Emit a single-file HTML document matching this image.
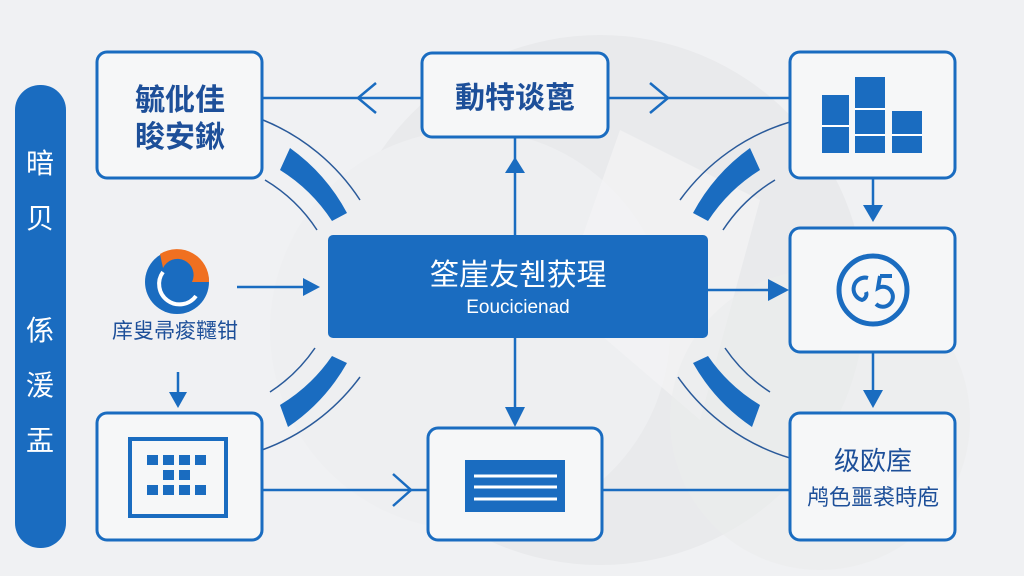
<!DOCTYPE html>
<html><head><meta charset="utf-8"><style>
html,body{margin:0;padding:0;width:1024px;height:576px;overflow:hidden;background:#eff0f2}
svg{display:block}
.t{font-family:"Liberation Sans","Noto Sans CJK SC",sans-serif}
</style></head><body>
<svg width="1024" height="576" viewBox="0 0 1024 576" xmlns="http://www.w3.org/2000/svg">
<rect width="1024" height="576" fill="#f0f1f3"/>
<circle cx="600" cy="300" r="265" fill="#e9eaec"/>
<circle cx="470" cy="330" r="200" fill="#eeeff1"/>
<path d="M620 130 L760 200 L700 420 L560 300 Z" fill="#f3f4f5" opacity="0.7"/>
<circle cx="820" cy="420" r="150" fill="#ebeced" opacity="0.6"/>

<g fill="none" stroke="#1a6cc0" stroke-width="2.5">
<line x1="262" y1="98" x2="422" y2="98"/>
<polyline points="376,83 358,98 376,113"/>
<line x1="608" y1="98" x2="790" y2="98"/>
<polyline points="650,83 668,98 650,113"/>
<line x1="262" y1="490" x2="428" y2="490"/>
<polyline points="393,474 411,490 393,506"/>
<line x1="602" y1="490" x2="790" y2="490"/>
<line x1="515" y1="137" x2="515" y2="235"/>
<line x1="515" y1="338" x2="515" y2="410"/>
<line x1="237" y1="287" x2="305" y2="287"/>
<line x1="178" y1="372" x2="178" y2="395"/>
<line x1="708" y1="290" x2="770" y2="290"/>
<line x1="873" y1="178" x2="873" y2="208"/>
<line x1="873" y1="352" x2="873" y2="392"/>
</g>
<g fill="#1a6cc0">
<polygon points="515,157 505,173 525,173"/>
<polygon points="515,427 505,407 525,407"/>
<polygon points="320,287 303,278 303,296"/>
<polygon points="178,408 169,392 187,392"/>
<polygon points="789,290 768,279 768,301"/>
<polygon points="873,222 863,205 883,205"/>
<polygon points="873,408 863,390 883,390"/>
</g>

<g>
<path d="M290 148 A190 190 0 0 1 347 213 L332 221 A168 168 0 0 0 280 170 Z" fill="#1a6cc0"/>
<path d="M263 120 A210 210 0 0 1 360 200" fill="none" stroke="#2a5a9a" stroke-width="1.5"/>
<path d="M265 180 A160 160 0 0 1 317 230" fill="none" stroke="#2a5a9a" stroke-width="1.5"/>
<path d="M288 427 A190 190 0 0 0 347 363 L332 356 A168 168 0 0 1 280 405 Z" fill="#1a6cc0"/>
<path d="M270 392 A160 160 0 0 0 315 348" fill="none" stroke="#2a5a9a" stroke-width="1.5"/>
<path d="M262 450 A210 210 0 0 0 360 377" fill="none" stroke="#2a5a9a" stroke-width="1.5"/>
</g>
<g transform="translate(1040,0) scale(-1,1)">
<path d="M290 148 A190 190 0 0 1 347 213 L332 221 A168 168 0 0 0 280 170 Z" fill="#1a6cc0"/>
<path d="M250 122 A210 210 0 0 1 360 200" fill="none" stroke="#2a5a9a" stroke-width="1.5"/>
<path d="M265 180 A160 160 0 0 1 317 230" fill="none" stroke="#2a5a9a" stroke-width="1.5"/>
<path d="M288 427 A190 190 0 0 0 347 363 L332 356 A168 168 0 0 1 280 405 Z" fill="#1a6cc0"/>
<path d="M270 392 A160 160 0 0 0 315 348" fill="none" stroke="#2a5a9a" stroke-width="1.5"/>
<path d="M250 458 A210 210 0 0 0 362 377" fill="none" stroke="#2a5a9a" stroke-width="1.5"/>
</g>

<rect x="15" y="85" width="51" height="463" rx="25" fill="#1a6cc0"/>
<g class="t" fill="#fff" font-size="28" text-anchor="middle">
<text x="40" y="173">暗</text>
<text x="40" y="228">贝</text>
<text x="40" y="340">係</text>
<text x="40" y="395">湲</text>
<text x="40" y="450">盂</text>
</g>

<g fill="#f6f7f8" stroke="#1a6cc0" stroke-width="3">
<rect x="97" y="52" width="165" height="126" rx="10"/>
<rect x="422" y="53" width="186" height="84" rx="10"/>
<rect x="790" y="52" width="165" height="126" rx="10"/>
<rect x="790" y="228" width="165" height="124" rx="10"/>
<rect x="97" y="413" width="165" height="127" rx="10"/>
<rect x="428" y="428" width="174" height="112" rx="10"/>
<rect x="790" y="413" width="165" height="127" rx="10"/>
</g>
<rect x="328" y="235" width="380" height="103" rx="5" fill="#1a6cc0"/>

<g class="t" fill="#1d4f99" font-weight="bold" text-anchor="middle">
<text x="180" y="110" font-size="30">毓仳佳</text>
<text x="180" y="147" font-size="30">睃安鍬</text>
<text x="515" y="108" font-size="30">動特谈蓖</text>
</g>
<g class="t" fill="#fff" text-anchor="middle">
<text x="518" y="285" font-size="30">筌崖友췐获瑆</text>
<text x="518" y="313" font-size="19">Eoucicienad</text>
</g>
<g class="t" fill="#1d4f99" text-anchor="middle">
<text x="175" y="338" font-size="21">庠叟帚痠韆钳</text>
<text x="873" y="470" font-size="26">级欧庢</text>
<text x="873" y="505" font-size="22">鸬色噩裘時庖</text>
</g>

<circle cx="177" cy="282" r="32" fill="#1a6cc0"/>
<path d="M160 254 A32 32 0 0 1 209 282 L192 282 A15 15 0 0 0 163 268 Z" fill="#f07020"/>
<path d="M163 272 A18 18 0 0 0 196 296" fill="none" stroke="#fff" stroke-width="4"/>

<g fill="#1a6cc0">
<rect x="822" y="95" width="27" height="58"/>
<rect x="855" y="77" width="30" height="76"/>
<rect x="892" y="111" width="30" height="42"/>
</g>
<g stroke="#fff" stroke-width="2">
<line x1="822" y1="126" x2="849" y2="126"/>
<line x1="855" y1="109" x2="885" y2="109"/>
<line x1="855" y1="135" x2="885" y2="135"/>
<line x1="892" y1="135" x2="922" y2="135"/>
</g>

<circle cx="873" cy="290" r="34" fill="none" stroke="#1a6cc0" stroke-width="5"/>
<g fill="none" stroke="#1a6cc0" stroke-width="4">
<path d="M868 278 A10 10 0 1 0 862 300 A6 6 0 0 0 866 292"/>
<path d="M880 276 L892 276 M880 276 L878 288 A10 10 0 1 1 876 304"/>
</g>

<rect x="130" y="439" width="96" height="77" fill="none" stroke="#1a6cc0" stroke-width="4"/>
<g fill="#1a6cc0">
<rect x="147" y="455" width="11" height="10"/><rect x="163" y="455" width="11" height="10"/><rect x="179" y="455" width="11" height="10"/><rect x="195" y="455" width="11" height="10"/>
<rect x="163" y="470" width="11" height="10"/><rect x="179" y="470" width="11" height="10"/>
<rect x="147" y="485" width="11" height="10"/><rect x="163" y="485" width="11" height="10"/><rect x="179" y="485" width="11" height="10"/><rect x="195" y="485" width="11" height="10"/>
</g>

<rect x="465" y="460" width="100" height="52" fill="#1a6cc0"/>
<g stroke="#fff" stroke-width="3">
<line x1="474" y1="476" x2="557" y2="476"/>
<line x1="474" y1="487" x2="557" y2="487"/>
<line x1="474" y1="499" x2="557" y2="499"/>
</g>
</svg>
</body></html>
